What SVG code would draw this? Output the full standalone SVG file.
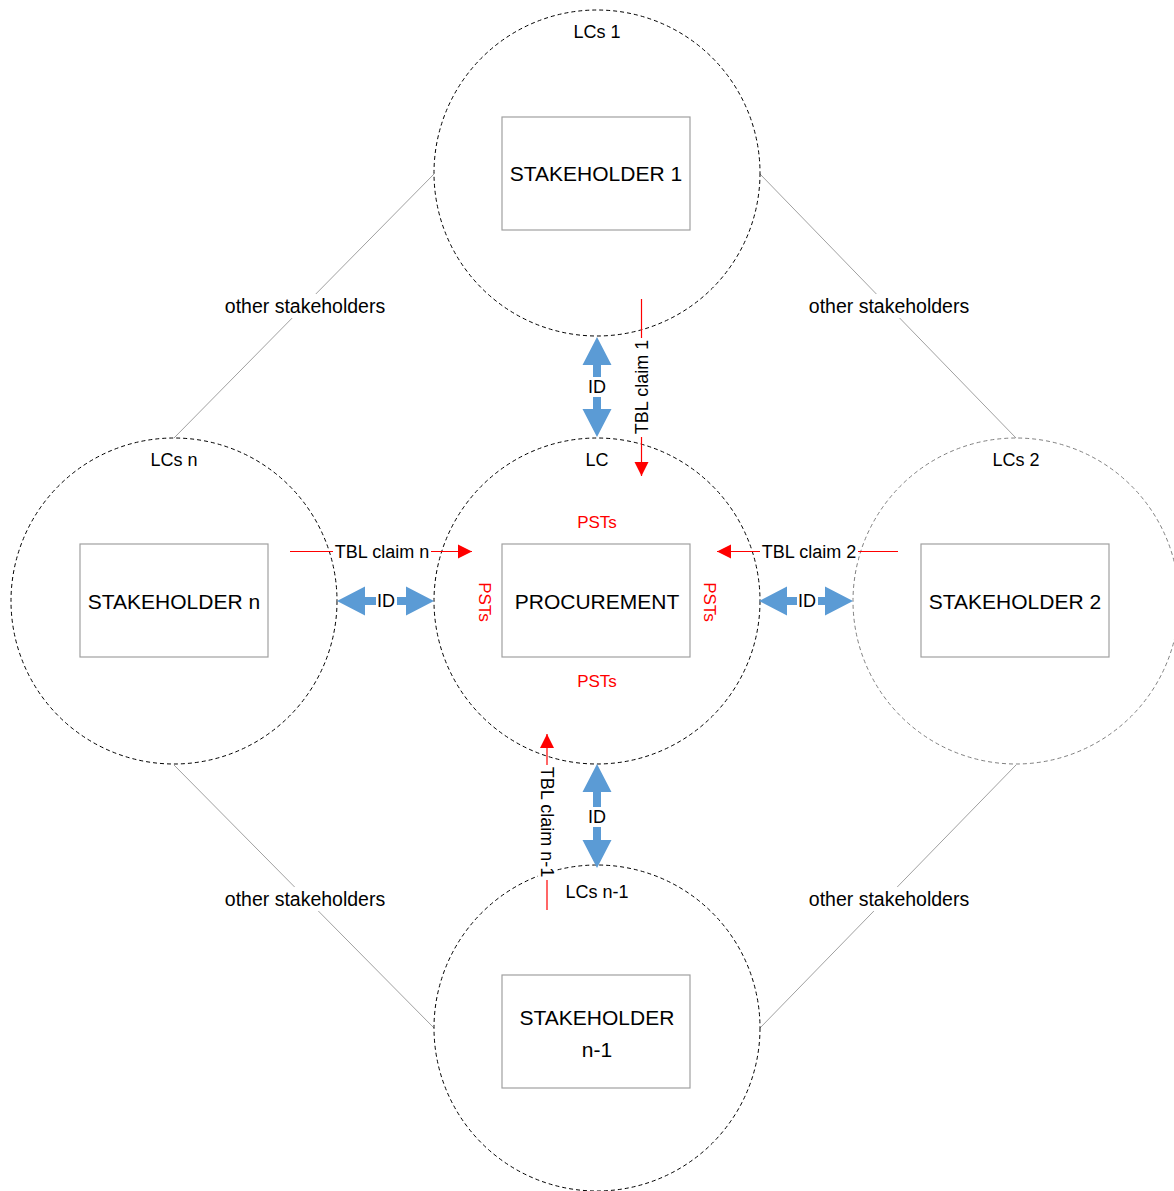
<svg xmlns="http://www.w3.org/2000/svg" width="1174" height="1191" viewBox="0 0 1174 1191">
<defs>
<style>
.lc{fill:none;stroke:#000;stroke-width:1;stroke-dasharray:4 3}
.lc2{fill:none;stroke:#808080;stroke-width:1;stroke-dasharray:4 3}
.box{fill:#fff;stroke:#a0a0a0;stroke-width:1.2}
.bt{font-family:"Liberation Sans",Arial,sans-serif;font-size:21px;fill:#000;text-anchor:middle}
.t{font-family:"Liberation Sans",Arial,sans-serif;font-size:18px;fill:#000;text-anchor:middle}
.os{font-family:"Liberation Sans",Arial,sans-serif;font-size:19.5px;fill:#000;text-anchor:middle}
.p{font-family:"Liberation Sans",Arial,sans-serif;font-size:17px;fill:#ff0000;text-anchor:middle}
.diag{stroke:#a0a0a0;stroke-width:1;fill:none}
.blue{fill:#5b9bd5}
.red{stroke:#ff0000;stroke-width:1.2;fill:none}
.bg{fill:#fff}
</style>
<marker id="rh" viewBox="0 0 10 10" refX="10" refY="5" markerUnits="userSpaceOnUse" markerWidth="14" markerHeight="15" orient="auto">
<path d="M0,0 L10,5 L0,10 z" fill="#ff0000"/>
</marker>
</defs>
<rect width="1174" height="1191" fill="#fff"/>
<g id="connectors">
<line class="diag" x1="434" y1="174" x2="174" y2="438"/>
<line class="diag" x1="760" y1="174" x2="1016" y2="438"/>
<line class="diag" x1="174" y1="765" x2="434" y2="1028"/>
<line class="diag" x1="1016" y1="765" x2="760" y2="1028"/>
<rect class="bg" x="220" y="294" width="170" height="24"/>
<text class="os" x="305" y="313">other stakeholders</text>
<rect class="bg" x="804" y="294" width="170" height="24"/>
<text class="os" x="889" y="313">other stakeholders</text>
<rect class="bg" x="220" y="887" width="170" height="24"/>
<text class="os" x="305" y="906">other stakeholders</text>
<rect class="bg" x="804" y="887" width="170" height="24"/>
<text class="os" x="889" y="906">other stakeholders</text>
</g>
<g id="lc-top">
<circle class="lc" cx="597" cy="173" r="163"/>
<text class="t" x="597" y="38">LCs 1</text>
</g>
<g id="lc-center">
<circle class="lc" cx="597" cy="601" r="163"/>
<text class="t" x="597" y="466">LC</text>
</g>
<g id="lc-left">
<circle class="lc" cx="174" cy="601" r="163"/>
<text class="t" x="174" y="466">LCs n</text>
</g>
<g id="lc-right">
<circle class="lc2" cx="1016" cy="601" r="163"/>
<text class="t" x="1016" y="466">LCs 2</text>
</g>
<g id="lc-bottom">
<circle class="lc" cx="597" cy="1028" r="163"/>
<text class="t" x="597" y="898">LCs n-1</text>
</g>
<g id="stakeholder-1">
<rect class="box" x="502" y="117" width="188" height="113"/>
<text class="bt" x="596" y="181">STAKEHOLDER 1</text>
</g>
<g id="procurement">
<rect class="box" x="502" y="544" width="188" height="113"/>
<text class="bt" x="597" y="609">PROCUREMENT</text>
</g>
<g id="stakeholder-n">
<rect class="box" x="80" y="544" width="188" height="113"/>
<text class="bt" x="174" y="609">STAKEHOLDER n</text>
</g>
<g id="stakeholder-2">
<rect class="box" x="921" y="544" width="188" height="113"/>
<text class="bt" x="1015" y="609">STAKEHOLDER 2</text>
</g>
<g id="stakeholder-n-1">
<rect class="box" x="502" y="975" width="188" height="113"/>
<text class="bt" x="597" y="1025">STAKEHOLDER</text>
<text class="bt" x="597" y="1057">n-1</text>
</g>
<g id="pst-labels">
<text class="p" x="597" y="528">PSTs</text>
<text class="p" x="597" y="687">PSTs</text>
<text class="p" transform="translate(485,602) rotate(90)" x="0" y="6">PSTs</text>
<text class="p" transform="translate(710,602) rotate(90)" x="0" y="6">PSTs</text>
</g>
<g id="id-arrows">
<polygon class="blue" points="597,337 611.5,365 601,365 601,409 611.5,409 597,437 582.5,409 593,409 593,365 582.5,365"/>
<rect class="bg" x="586" y="377" width="22" height="20"/>
<text class="t" x="597" y="393">ID</text>
<polygon class="blue" points="597,764 611.5,792 601,792 601,840 611.5,840 597,868 582.5,840 593,840 593,792 582.5,792"/>
<rect class="bg" x="586" y="807" width="22" height="20"/>
<text class="t" x="597" y="823">ID</text>
<polygon class="blue" points="337,601 365,586.5 365,597 406,597 406,586.5 434,601 406,615.5 406,605 365,605 365,615.5"/>
<rect class="bg" x="376" y="591" width="21" height="20"/>
<text class="t" x="386" y="607">ID</text>
<polygon class="blue" points="759,601 787,586.5 787,597 825,597 825,586.5 853,601 825,615.5 825,605 787,605 787,615.5"/>
<rect class="bg" x="797" y="591" width="21" height="20"/>
<text class="t" x="807" y="607">ID</text>
</g>
<g id="tbl-claims">
<line class="red" x1="641.5" y1="299" x2="641.5" y2="476" marker-end="url(#rh)"/>
<rect class="bg" x="632" y="338" width="19" height="99"/>
<text class="t" transform="translate(641.5,387) rotate(-90)" x="0" y="6">TBL claim 1</text>
<line class="red" x1="290" y1="551.5" x2="472" y2="551.5" marker-end="url(#rh)"/>
<rect class="bg" x="333" y="542" width="98" height="19"/>
<text class="t" x="382" y="558">TBL claim n</text>
<line class="red" x1="898" y1="551.5" x2="717" y2="551.5" marker-end="url(#rh)"/>
<rect class="bg" x="760" y="542" width="98" height="19"/>
<text class="t" x="809" y="558">TBL claim 2</text>
<line class="red" x1="547" y1="910" x2="547" y2="734" marker-end="url(#rh)"/>
<rect class="bg" x="538" y="765" width="19" height="115"/>
<text class="t" transform="translate(547,822) rotate(90)" x="0" y="6">TBL claim n-1</text>
</g>
</svg>
